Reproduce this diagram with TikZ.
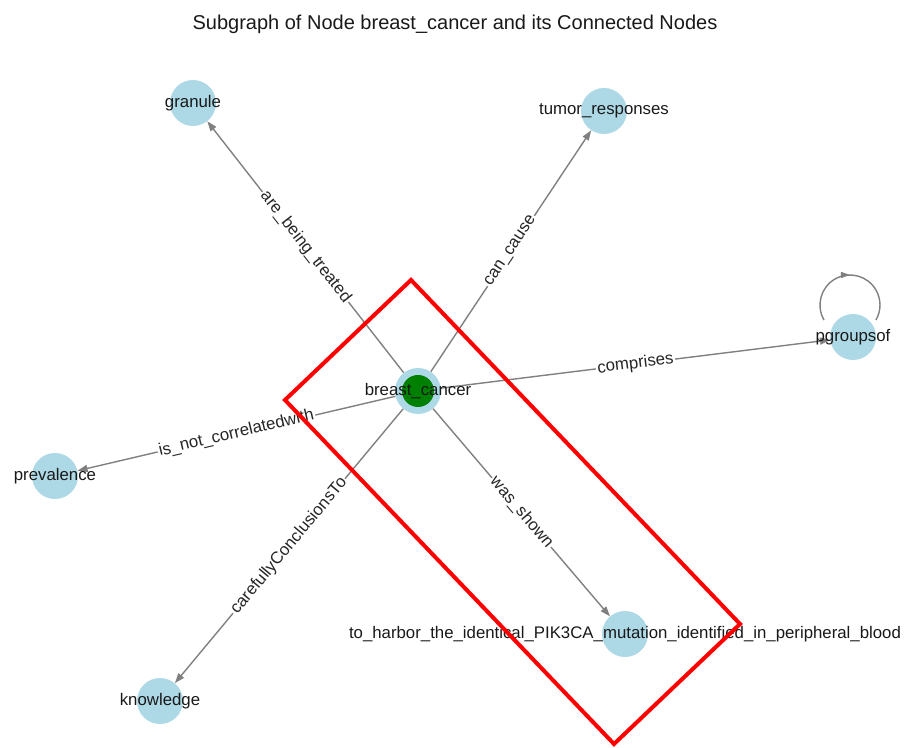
\documentclass[tikz,border=0pt]{standalone}
\usepackage{fontspec}
\setmainfont{Liberation Sans}
\usetikzlibrary{arrows.meta,decorations.markings}
\definecolor{nodeblue}{RGB}{173,216,230}
\definecolor{coregreen}{RGB}{0,128,0}
\definecolor{edgegray}{RGB}{128,128,128}
\pgfdeclarelayer{edgelayer}
\pgfsetlayers{edgelayer,main}
\tikzset{
  vnode/.style={circle,fill=nodeblue,minimum size=46pt,inner sep=0pt},
  vtext/.style={font=\fontsize{16.8}{18}\selectfont,text=black!90},
  elink/.style={draw=edgegray,line width=1.4pt,-{Triangle[length=10pt,width=7pt]}},
  elabel/.style={midway,sloped,fill=white,inner sep=1.5pt,font=\fontsize{16.8}{18}\selectfont,text=black!85},
  eloop/.style={draw=edgegray,line width=1.4pt,
    decoration={markings,mark=at position 0.5 with {\arrow{Triangle[length=9pt,width=6pt]}}},
    postaction={decorate}},
}
\begin{document}
\begin{tikzpicture}[x=1pt,y=1pt]
\useasboundingbox (0,0) rectangle (904,747);
\node[font=\fontsize{20}{24}\selectfont,text=black!90](SGT) at (455,723){Subgraph of Node breast\_cancer and its Connected Nodes};
% nodes
\node[vnode,label={[vtext]center:breast\_cancer},
  path picture={\fill[coregreen] (path picture bounding box.center) circle (16pt);}](SG0) at (418,356){};
\node[vnode,label={[vtext]center:granule}](SG1) at (193,644){};
\node[vnode,label={[vtext]center:tumor\_responses}](SG2) at (604,636){};
\node[vnode,label={[vtext]center:pgroupsof}](SG3) at (853,410){};
\node[vnode,label={[vtext]center:prevalence}](SG4) at (55,271){};
\node[vnode,label={[vtext]center:to\_harbor\_the\_identical\_PIK3CA\_mutation\_identified\_in\_peripheral\_blood}](SG5) at (625,113){};
\node[vnode,label={[vtext]center:knowledge}](SG6) at (160,46){};
% edges
\begin{pgfonlayer}{edgelayer}
\draw[elink](SG0)--node[elabel]{are\_being\_treated}(SG1);
\draw[elink](SG0)--node[elabel]{can\_cause}(SG2);
\draw[elink](SG0)--node[elabel]{comprises}(SG3);
\draw[elink](SG0)--node[elabel]{is\_not\_correlatedwith}(SG4);
\draw[elink](SG0)--node[elabel]{was\_shown}(SG5);
\draw[elink](SG0)--node[elabel]{carefullyConclusionsTo}(SG6);
\draw[eloop](SG3) ++(-29,17) arc[start angle=210,end angle=-30,radius=30];
\end{pgfonlayer}
% highlight box
\draw[red,line width=4pt,line join=miter](411,467)--(740,123)--(614,3)--(285,347)--cycle;
\end{tikzpicture}
\end{document}
